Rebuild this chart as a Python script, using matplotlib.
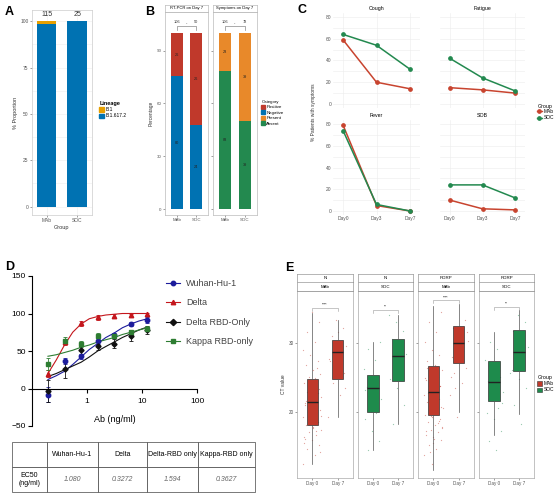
from matplotlib import pyplot as plt
from matplotlib.patches import Patch
from matplotlib.lines import Line2D

plt.rcParams['font.family'] = ['Liberation Sans', 'DejaVu Sans']

# ---- data ----
# A
groups = ['MAb', 'SOC']
lineage_b1 = [1.7, 0.0]
lineage_b16172 = [98.3, 100.0]
group_n = [115, 25]

# B
pcr_positive = [26, 26]
pcr_negative = [80, 24]
sym_present = [23, 39]
sym_absent = [83, 39]

# C
days = ['Day0', 'Day3', 'Day7']
symptoms = ['Cough', 'Fatigue', 'Fever', 'SOB']
mab_sym = {'Cough': [59, 20, 14], 'Fatigue': [15, 13, 10],
           'Fever': [79, 5, 0], 'SOB': [10, 2, 1]}
soc_sym = {'Cough': [64, 54, 32], 'Fatigue': [42, 24, 12],
           'Fever': [74, 6, 0], 'SOB': [24, 24, 12]}

# D
conc = [0.195, 0.39, 0.78, 1.5625, 3.125, 6.25, 12.5]
wuhan = [-8, 37, 43, 63, 71, 86, 92]
wuhan_err = [10, 4, 3, 4, 3, 3, 4]
delta = [20, 62, 87, 95, 97, 98, 99]
delta_err = [5, 4, 3, 3, 3, 2, 2]
delta_rbd = [-3, 26, 51, 57, 60, 70, 78]
delta_rbd_err = [15, 12, 6, 5, 6, 6, 5]
kappa_rbd = [33, 64, 60, 70, 70, 75, 80]
kappa_rbd_err = [8, 5, 4, 4, 3, 3, 3]
curve_x = [0.195, 0.276, 0.39, 0.55, 0.78, 1.1, 1.5625, 2.2, 3.125, 4.4, 6.25, 8.8, 12.5]
wuhan_fit = [12, 17, 23, 32, 42, 52, 60, 68, 74, 81, 86, 90, 93]
delta_fit = [20, 38, 58, 75, 86, 93, 96, 98, 99, 100, 100, 100, 100]
delta_rbd_fit = [16, 20, 25, 30, 35, 42, 50, 56, 62, 68, 73, 78, 82]
kappa_rbd_fit = [43, 45, 48, 51, 55, 58, 62, 65, 68, 72, 75, 78, 81]
table_head = ['', 'Wuhan-Hu-1', 'Delta', 'Delta-RBD only', 'Kappa-RBD only']
table_row = ['EC50\n(ng/ml)', '1.080', '0.3272', '1.594', '0.3627']

# E  (whislo, q1, med, q3, whishi) for Day 0 / Day 7
facets = [('N', 'MAb'), ('N', 'SOC'), ('RDRP', 'MAb'), ('RDRP', 'SOC')]
box_d0 = [[12.5, 18.1, 21.4, 24.8, 34.3], [14.5, 19.9, 23.5, 25.3, 30.1],
          [11.5, 19.5, 22.9, 26.6, 35.3], [16.6, 21.6, 24.3, 27.3, 31.6]]
box_d7 = [[19.3, 24.8, 28.6, 30.4, 33.3], [18.2, 24.5, 28.1, 30.6, 34.0],
          [19.9, 27.0, 30.0, 32.4, 35.6], [19.7, 25.9, 28.6, 31.8, 34.7]]
sig_y = [35.1, 34.8, 36.2, 35.2]
sig_txt = ['****', '**', '****', '**']
pts_mab_d0 = [12.5, 13.8, 14.6, 15.2, 15.9, 16.3, 16.7, 17.0, 17.4, 17.8, 18.1, 18.5,
              18.9, 19.2, 19.6, 20.0, 20.3, 20.7, 21.0, 21.4, 21.8, 22.1, 22.5, 22.9,
              23.3, 23.7, 24.1, 24.6, 25.0, 25.5, 26.1, 26.8, 27.4, 28.2, 29.0, 30.1,
              31.5, 33.0, 34.5, 16.1, 17.2, 18.3, 19.4, 20.5, 21.6, 22.7, 23.8, 15.5,
              24.9, 19.9, 14.2, 17.6, 21.2, 26.3, 18.7]
pts_mab_d7 = [19.3, 22.5, 24.2, 25.6, 26.4, 27.3, 28.0, 28.8, 29.5, 30.2, 31.0, 32.1,
              33.3, 27.7, 25.1, 29.9, 23.4, 31.6]
pts_soc_d0 = [14.5, 15.8, 17.2, 18.9, 19.8, 20.6, 21.9, 22.8, 23.6, 24.4, 25.1, 26.2,
              27.5, 29.1, 30.1, 21.3, 23.1]
pts_soc_d7 = [18.2, 21.0, 23.5, 24.8, 26.0, 27.2, 28.3, 29.4, 30.5, 31.7, 33.0, 34.0,
              25.6, 28.9]

red = '#c0392b'
blue = '#0072b2'
orange = '#e8892a'
green = '#23894f'

W, H = 560, 497
fig = plt.figure(figsize=(5.6, 4.97), dpi=100)


def box(l, t, r, b):
    return fig.add_axes([l / W, 1 - b / H, (r - l) / W, (b - t) / H])


def ftext(x, y, s, **kw):
    fig.text(x / W, 1 - y / H, s, **kw)


def small_ticks(ax, size=3.5):
    ax.tick_params(labelsize=size, length=1.5, width=0.4, colors='#555555', pad=1)


def grey_frame(ax, c='#cccccc'):
    for s in ax.spines.values():
        s.set_color(c)
        s.set_linewidth(0.5)


# ---- A ----
axA = box(32, 10, 92, 215)
xs = [1, 2]
axA.bar(xs, lineage_b16172, 0.64, color=blue, zorder=2)
axA.bar(xs, lineage_b1, 0.64, bottom=lineage_b16172, color='#e69f00', zorder=2)
for x, n in zip(xs, group_n):
    axA.text(x, 101.5, str(n), ha='center', va='bottom', fontsize=5, color='#333333')
axA.set_xlim(0.52, 2.49)
axA.set_ylim(-4.5, 106)
axA.set_xticks(xs, groups)
axA.set_yticks([0, 25, 50, 75, 100])
axA.set_yticks([12.5, 37.5, 62.5, 87.5], minor=True)
axA.grid(True, which='both', color='#eeeeee', lw=0.4, zorder=0)
axA.tick_params(which='minor', length=0)
axA.set_ylabel('% Proportion', fontsize=4, color='#333333', labelpad=2)
axA.set_xlabel('Group', fontsize=4, color='#333333', labelpad=1)
small_ticks(axA)
grey_frame(axA)
ftext(100, 104, 'Lineage', fontsize=4, weight='bold', va='center')
fig.legend(handles=[Patch(color='#e69f00', label='B.1'), Patch(color=blue, label='B.1.617.2')],
           loc='upper left', bbox_to_anchor=(99 / W, 1 - 107 / H), frameon=False,
           fontsize=3.5, handlelength=1.0, handleheight=1.0, handletextpad=0.4,
           labelspacing=0.3, borderpad=0, borderaxespad=0)
ftext(5, 12, 'A', fontsize=9, weight='bold', va='center')

# ---- B ----
b_panels = [('RT-PCR on Day 7', 165, 208, pcr_negative, pcr_positive, blue, red),
            ('Symptoms on Day 7', 213, 257, sym_absent, sym_present, green, orange)]
for i, (title, l, r, low, high, c_low, c_high) in enumerate(b_panels):
    ax = box(l, 12, r, 215)
    n = [a + b for a, b in zip(low, high)]
    low_pct = [a / t * 100 for a, t in zip(low, n)]
    high_pct = [b / t * 100 for b, t in zip(high, n)]
    ax.bar(xs, low_pct, 0.6, color=c_low)
    ax.bar(xs, high_pct, 0.6, bottom=low_pct, color=c_high)
    for x, a, b, lp, hp, t in zip(xs, low, high, low_pct, high_pct, n):
        ax.text(x, lp / 2, str(a), ha='center', va='center', fontsize=2.8, color='#222222')
        ax.text(x, lp + hp / 2, str(b), ha='center', va='center', fontsize=2.8, color='#222222')
        ax.text(x, 106.5, str(t), ha='center', va='center', fontsize=2.8, color='#333333')
    ax.plot([1, 1, 2, 2], [101.5, 104, 104, 101.5], color='#888888', lw=0.5)
    ax.text(1.5, 104.5, '-', ha='center', va='bottom', fontsize=3)
    ax.set_xlim(0.4, 2.6)
    ax.set_ylim(-3.4, 112)
    ax.set_xticks(xs, groups)
    ax.set_yticks([0, 30, 60, 90])
    if i > 0:
        ax.set_yticklabels([])
        ax.tick_params(axis='y', length=0)
    else:
        ax.set_ylabel('Percentage', fontsize=3.5, color='#333333', labelpad=2)
    small_ticks(ax, 3.2)
    grey_frame(ax, '#bbbbbb')
    st = box(l, 5, r, 12)
    st.set_xticks([])
    st.set_yticks([])
    grey_frame(st, '#bbbbbb')
    st.text(0.5, 0.5, title, ha='center', va='center', fontsize=3, transform=st.transAxes)
ftext(262, 102, 'Category', fontsize=3.2, va='center')
fig.legend(handles=[Patch(color=red, label='Positive'), Patch(color=blue, label='Negative'),
                    Patch(color=orange, label='Present'), Patch(color=green, label='Absent')],
           loc='upper left', bbox_to_anchor=(261 / W, 1 - 105 / H), frameon=False,
           fontsize=3.2, handlelength=0.9, handleheight=0.9, handletextpad=0.3,
           labelspacing=0.25, borderpad=0, borderaxespad=0)
ftext(145, 12, 'B', fontsize=9, weight='bold', va='center')

# ---- C ----
c_boxes = {'Cough': (333, 13, 420, 108), 'Fatigue': (440, 13, 525, 108),
           'Fever': (333, 120, 420, 215), 'SOB': (440, 120, 525, 215)}
for s in symptoms:
    l, t, r, b = c_boxes[s]
    ax = box(l, t, r, b)
    dx = [0, 1, 2]
    ax.plot(dx, mab_sym[s], color='#c8442f', lw=1.1, marker='o', ms=2.4)
    ax.plot(dx, soc_sym[s], color='#23894f', lw=1.1, marker='o', ms=2.4)
    ax.set_xlim(-0.3, 2.3)
    ax.set_ylim(-3.7, 83.7)
    ax.set_yticks([0, 20, 40, 60, 80])
    ax.set_yticks([10, 30, 50, 70], minor=True)
    ax.set_xticks(dx, days)
    ax.grid(True, which='both', color='#ececec', lw=0.4)
    ax.set_axisbelow(True)
    for sp in ax.spines.values():
        sp.set_visible(False)
    ax.tick_params(which='both', length=0)
    small_ticks(ax, 3.5)
    ax.tick_params(which='both', length=0)
    if s in ['Fatigue', 'SOB']:
        ax.set_yticklabels([])
    if s in ['Cough', 'Fatigue']:
        ax.set_xticklabels([])
    ax.set_title(s, fontsize=3.8, pad=2)
ftext(313, 112, '% Patients with symptoms', fontsize=3.5, rotation=90, ha='center', va='center',
      color='#333333')
ftext(538, 106, 'Group', fontsize=3.8, va='center')
fig.legend(handles=[Line2D([], [], color='#c8442f', marker='o', ms=2.4, lw=1, label='MAb'),
                    Line2D([], [], color='#23894f', marker='o', ms=2.4, lw=1, label='SOC')],
           loc='upper left', bbox_to_anchor=(537 / W, 1 - 109 / H), frameon=False,
           fontsize=3.5, handlelength=1.0, handletextpad=0.3, labelspacing=0.3,
           borderpad=0, borderaxespad=0)
ftext(298, 10, 'C', fontsize=9, weight='bold', va='center')

# ---- D ----
axD = box(32, 276, 197, 426)
d_series = [('Wuhan-Hu-1', wuhan, wuhan_err, wuhan_fit, '#1c1c9c', 'o'),
            ('Delta', delta, delta_err, delta_fit, '#c4161c', '^'),
            ('Delta RBD-Only', delta_rbd, delta_rbd_err, delta_rbd_fit, '#111111', 'D'),
            ('Kappa RBD-only', kappa_rbd, kappa_rbd_err, kappa_rbd_fit, '#2e7d32', 's')]
handles = []
for name, ys, err, fit, col, mk in d_series:
    axD.plot(curve_x, fit, color=col, lw=0.8)
    axD.errorbar(conc, ys, yerr=err, fmt=mk, color=col, ms=3.2 if mk != 'D' else 2.6,
                 elinewidth=0.6, capsize=1.2, capthick=0.6)
    handles.append(Line2D([], [], color=col, marker=mk, ms=3.2, lw=0.8, label=name))
axD.set_xscale('log')
axD.set_xlim(0.1, 100)
axD.set_ylim(-50, 150)
axD.set_xticks([1, 10, 100], ['1', '10', '100'])
axD.minorticks_off()
axD.set_yticks([-50, 0, 50, 100, 150])
axD.spines['top'].set_visible(False)
axD.spines['right'].set_visible(False)
axD.spines['bottom'].set_position(('data', 0))
axD.spines['left'].set_linewidth(0.8)
axD.spines['bottom'].set_linewidth(0.8)
axD.tick_params(labelsize=6, length=3, width=0.8, pad=1.5)
axD.tick_params(axis='x', pad=4)
ftext(115, 420, 'Ab (ng/ml)', fontsize=6.5, ha='center', va='center')
fig.legend(handles=handles, loc='upper left', bbox_to_anchor=(166 / W, 1 - 279 / H),
           frameon=False, fontsize=6.5, handlelength=1.6, handletextpad=0.6,
           labelspacing=1.15, borderpad=0, borderaxespad=0, labelcolor='#444444')
ftext(5, 267, 'D', fontsize=9, weight='bold', va='center')

axT = box(12, 442, 255, 492)
axT.axis('off')
tb = axT.table(cellText=[table_head, table_row], colWidths=[35, 51, 49, 51, 57],
               cellLoc='center', bbox=[0, 0, 1, 1])
tb.auto_set_font_size(False)
for (r, c), cell in tb.get_celld().items():
    cell.set_linewidth(0.5)
    cell.set_edgecolor('#444444')
    cell.get_text().set_fontsize(5)
    if r == 1 and c > 0:
        cell.get_text().set_color('#666666')
        cell.get_text().set_fontstyle('italic')

# ---- E ----
e_cols = {'MAb': red, 'SOC': '#1e8b4c'}
e_pts = {'MAb': (pts_mab_d0, pts_mab_d7), 'SOC': (pts_soc_d0, pts_soc_d7)}
e_x = [(297, 353), (358, 413), (418, 474), (479, 534)]
for k, (gene, grp) in enumerate(facets):
    l, r = e_x[k]
    ax = box(l, 291, r, 478)
    col = e_cols[grp]
    for pos, pts in zip([1, 2], e_pts[grp]):
        jit = [pos + ((i * 0.618 + k * 0.21) % 1 - 0.5) * 0.75 for i in range(len(pts))]
        ax.scatter(jit, pts, s=0.8, color=col, alpha=0.45, lw=0, zorder=1)
    stats = []
    for st5 in [box_d0[k], box_d7[k]]:
        stats.append({'whislo': st5[0], 'q1': st5[1], 'med': st5[2], 'q3': st5[3],
                      'whishi': st5[4], 'fliers': []})
    ax.bxp(stats, positions=[1, 2], widths=0.45, patch_artist=True, showcaps=False,
           boxprops=dict(facecolor=col, edgecolor='#333333', lw=0.5),
           medianprops=dict(color='#222222', lw=1.0),
           whiskerprops=dict(color='#555555', lw=0.5), zorder=2)
    ax.plot([1, 1, 2, 2], [sig_y[k] - 0.5, sig_y[k], sig_y[k], sig_y[k] - 0.5],
            color='#999999', lw=0.4)
    ax.text(1.5, sig_y[k] + 0.1, sig_txt[k], ha='center', va='bottom', fontsize=2.6)
    ax.set_xlim(0.4, 2.6)
    ax.set_ylim(10.4, 37.5)
    ax.set_xticks([1, 2], ['Day 0', 'Day 7'])
    ax.set_yticks([20, 30])
    if k > 0:
        ax.set_yticklabels([])
        ax.tick_params(axis='y', length=0)
    else:
        ax.set_ylabel('CT value', fontsize=3.5, color='#333333', labelpad=2)
    small_ticks(ax, 3.3)
    grey_frame(ax, '#aaaaaa')
    for (t, b), lab in zip([(274, 282), (282, 291)], [gene, grp]):
        st = box(l, t, r, b)
        st.set_xticks([])
        st.set_yticks([])
        grey_frame(st, '#999999')
        st.text(0.5, 0.5, lab, ha='center', va='center', fontsize=3.2, transform=st.transAxes)
ftext(538, 377, 'Group', fontsize=3.8, va='center')
fig.legend(handles=[Patch(facecolor=red, edgecolor='#333333', lw=0.4, label='MAb'),
                    Patch(facecolor='#1e8b4c', edgecolor='#333333', lw=0.4, label='SOC')],
           loc='upper left', bbox_to_anchor=(537 / W, 1 - 381 / H), frameon=False,
           fontsize=3.5, handlelength=1.0, handleheight=1.0, handletextpad=0.3,
           labelspacing=0.3, borderpad=0, borderaxespad=0)
ftext(285, 268, 'E', fontsize=9, weight='bold', va='center')

plt.savefig('out.png', dpi=100)
